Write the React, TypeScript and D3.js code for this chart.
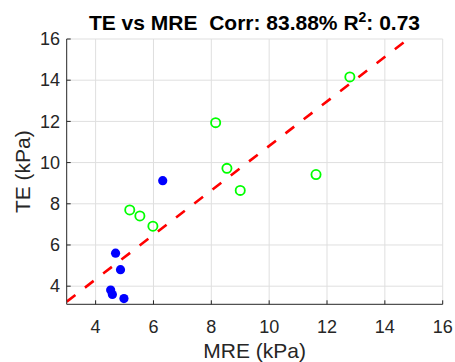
import React from "react";
import * as d3 from "d3";

// MRE (x) and TE (y) stiffness values, kPa
const groupA_mre = [6.32, 4.69, 4.86, 4.52, 4.58, 4.98];
const groupA_te = [9.12, 5.6, 4.8, 3.81, 3.6, 3.4];
const groupB_mre = [5.18, 5.53, 5.98, 8.15, 8.54, 9.0, 11.62, 12.79];
const groupB_te = [7.7, 7.41, 6.91, 11.94, 9.72, 8.65, 9.42, 14.16];

// fitted line TE = slope * MRE + intercept
const fitSlope = 1.08;
const fitIntercept = 0.01;

const xTicks = [4, 6, 8, 10, 12, 14, 16];
const yTicks = [4, 6, 8, 10, 12, 14, 16];
const xDomain = [3, 16];
const yDomain = [3.12, 16];

const W = 455;
const H = 362;
const left = 66.7;
const right = 442.7;
const top = 39;
const bottom = 304.3;
const FONT = "'Liberation Sans', Arial, Helvetica, sans-serif";
const AX = "#262626";

export default function App() {
  const x = d3.scaleLinear().domain(xDomain).range([left, right]);
  const y = d3.scaleLinear().domain(yDomain).range([bottom, top]);

  const fitX0 = xDomain[0];
  const fitX1 = (yDomain[1] - fitIntercept) / fitSlope;
  const fitLine = d3.line<number>()
    .x((d) => x(d))
    .y((d) => y(fitSlope * d + fitIntercept))([fitX0, fitX1]);

  const ptsA = groupA_mre.map((m, i) => [m, groupA_te[i]]);
  const ptsB = groupB_mre.map((m, i) => [m, groupB_te[i]]);

  return (
    <svg width={W} height={H} style={{ position: "absolute", left: 0, top: 0, background: "#fff" }}>
      <defs>
        <clipPath id="plot-area">
          <rect x={left} y={top} width={right - left} height={bottom - top} />
        </clipPath>
      </defs>
      <rect x={0} y={0} width={W} height={H} fill="#fff" />
      {/* grid */}
      <g stroke="#dfdfdf" strokeWidth={1}>
        {xTicks.map((t) => (
          <line key={"gx" + t} x1={x(t)} x2={x(t)} y1={top} y2={bottom} />
        ))}
        {yTicks.map((t) => (
          <line key={"gy" + t} x1={left} x2={right} y1={y(t)} y2={y(t)} />
        ))}
      </g>
      {/* fit line */}
      <path
        d={fitLine || ""}
        fill="none"
        stroke="#ff0000"
        strokeWidth={2.6}
        strokeDasharray="11,12"
        clipPath="url(#plot-area)"
      />
      {/* points */}
      {ptsA.map((p, i) => (
        <circle key={"a" + i} cx={x(p[0])} cy={y(p[1])} r={4.6} fill="#0000ff" />
      ))}
      {ptsB.map((p, i) => (
        <circle key={"b" + i} cx={x(p[0])} cy={y(p[1])} r={4.6} fill="none" stroke="#00ff00" strokeWidth={1.8} />
      ))}
      {/* axes */}
      <g stroke={AX} strokeWidth={1} fill="none">
        <line x1={left} x2={left} y1={top} y2={bottom} />
        <line x1={left} x2={right} y1={bottom} y2={bottom} />
        {xTicks.map((t) => (
          <line key={"tx" + t} x1={x(t)} x2={x(t)} y1={bottom} y2={bottom - 4} />
        ))}
        {yTicks.map((t) => (
          <line key={"ty" + t} x1={left} x2={left + 4} y1={y(t)} y2={y(t)} />
        ))}
      </g>
      <g fontFamily={FONT} fontSize={18} fill={AX}>
        {xTicks.map((t) => (
          <text key={"lx" + t} x={x(t)} y={332.5} textAnchor="middle">
            {t}
          </text>
        ))}
        {yTicks.map((t) => (
          <text key={"ly" + t} x={60} y={y(t)} dy="0.35em" textAnchor="end">
            {t}
          </text>
        ))}
      </g>
      <text x={(left + right) / 2} y={358} textAnchor="middle" fontFamily={FONT} fontSize={21} fill={AX}>
        MRE (kPa)
      </text>
      <text
        transform={`translate(30,${(top + bottom) / 2}) rotate(-90)`}
        textAnchor="middle"
        fontFamily={FONT}
        fontSize={21}
        fill={AX}
      >
        TE (kPa)
      </text>
      <text x={254.5} y={30} textAnchor="middle" fontFamily={FONT} fontSize={21} fontWeight="bold" fill="#000">
        TE vs MRE{"\u00a0\u00a0"}Corr: 83.88% R
        <tspan fontSize={14} dy={-8}>2</tspan>
        <tspan dy={8}>: 0.73</tspan>
      </text>
    </svg>
  );
}
